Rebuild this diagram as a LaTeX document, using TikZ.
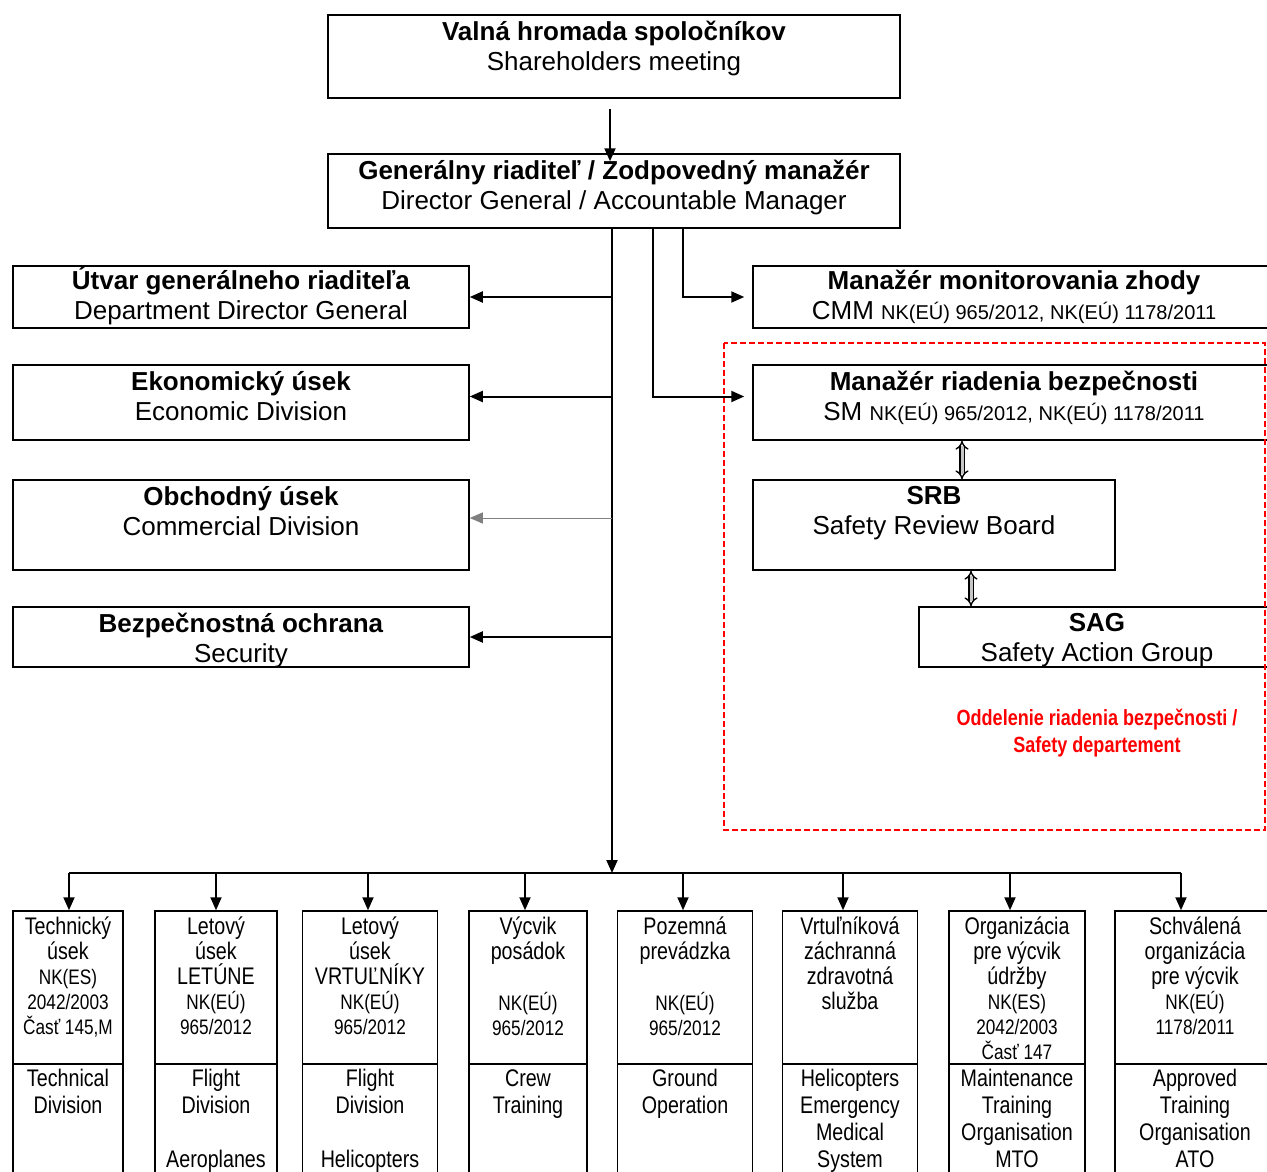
\documentclass[tikz,border=0pt]{standalone}
\usepackage{fontspec}
\setmainfont{Liberation Sans}
\newfontfamily\narrowfont[FakeStretch=0.82]{Liberation Sans}
\usetikzlibrary{arrows.meta, positioning}
\newcommand{\nk}[1]{{\fontsize{21}{24}\selectfont #1}}

\begin{document}
\begin{tikzpicture}[x=1pt, y=-1pt,
    box/.style={draw, line width=1.5pt, inner sep=0pt},
    txt/.style={align=center, inner sep=0pt, anchor=north, yshift=-7pt, font=\fontsize{26}{30}\selectfont,
        execute at begin node={\rule{0pt}{25pt}}},
    cell/.style={align=center, inner sep=0pt, anchor=north, yshift=-6pt, font=\narrowfont\fontsize{24}{25}\selectfont,
        execute at begin node={\rule{0pt}{23pt}}},
    cellb/.style={cell, font=\narrowfont\fontsize{24}{27}\selectfont},
    arr/.style={line width=2pt, -{Triangle[length=13pt, width=11pt]}},
    dbl/.style={double=gray!45, double distance=3pt, line width=1.4pt, {Implies}-{Implies}}]
    \useasboundingbox (0,0) rectangle (1267,1172);  % Fixes the page size
    \clip (0,0) rectangle (1267,1172);  % Cuts the boxes at the right and lower edge
    \fill[white] (0,0) rectangle (1267,1172);  % White background

    % top of the chart
    \node[box, minimum width=572pt, minimum height=83pt] (vh) at (614,56.5) {};  % Shareholders box
    \node[txt] (vhtext) at (vh.north) {\textbf{Valná hromada spoločníkov}\\Shareholders meeting};
    \node[box, minimum width=572pt, minimum height=74pt] (dg) at (614,191) {};  % Director General box
    \node[txt] (dgtext) at (dg.north) {\textbf{Generálny riaditeľ / Zodpovedný manažér}\\Director General / Accountable Manager};
    \draw[arr] ([xshift=-4pt,yshift=-10pt]vh.south) -- ([xshift=-4pt,yshift=-8pt]dg.north);  % Arrow into the Director General

    % left column
    \node[box, minimum width=456pt, minimum height=62pt] (ut) at (241,297) {};  % Department box
    \node[txt] (uttext) at ([yshift=6pt]ut.north) {\textbf{Útvar generálneho riaditeľa}\\Department Director General};
    \node[box, minimum width=456pt, minimum height=75pt] (ek) at (241,402.5) {};  % Economic box
    \node[txt] (ektext) at (ek.north) {\textbf{Ekonomický úsek}\\Economic Division};
    \node[box, minimum width=456pt, minimum height=90pt] (ob) at (241,525) {};  % Commercial box
    \node[txt] (obtext) at (ob.north) {\textbf{Obchodný úsek}\\Commercial Division};
    \node[box, minimum width=456pt, minimum height=60pt] (bo) at (241,637) {};  % Security box
    \node[txt] (botext) at (bo.north) {\textbf{Bezpečnostná ochrana}\\Security};

    % right column
    \node[box, minimum width=522pt, minimum height=62pt] (cmm) at (1014,297) {};  % Compliance box
    \node[txt] (cmmtext) at ([yshift=2pt]cmm.north) {\textbf{Manažér monitorovania zhody}\\CMM \fontsize{20}{30}\selectfont NK(EÚ) 965/2012, NK(EÚ) 1178/2011};
    \node[box, minimum width=522pt, minimum height=75pt] (sm) at (1014,402.5) {};  % Safety manager box
    \node[txt] (smtext) at (sm.north) {\textbf{Manažér riadenia bezpečnosti}\\SM \fontsize{20}{30}\selectfont NK(EÚ) 965/2012, NK(EÚ) 1178/2011};
    \node[box, minimum width=362pt, minimum height=90pt] (srb) at (934,525) {};  % Review board box
    \node[txt] (srbtext) at (srb.north) {\textbf{SRB}\\Safety Review Board};
    \node[box, minimum width=356pt, minimum height=60pt] (sag) at (1097,637) {};  % Action group box
    \node[txt] (sagtext) at (sag.north) {\textbf{SAG}\\Safety Action Group};
    \draw[red, line width=1.5pt, dash pattern=on 6pt off 3pt] (724,343) rectangle (1265,830);  % Safety department frame
    \node[cell, text=red, font=\narrowfont\bfseries\fontsize{22}{27}\selectfont] (sd) at (1097,703) {Oddelenie riadenia bezpečnosti /\\Safety departement};
    \draw[dbl] ([xshift=28pt]sm.south -| srb.north) -- ([xshift=28pt]srb.north);  % SM <-> SRB
    \draw[dbl] ([xshift=37pt]srb.south) -- ([xshift=37pt]srb.south |- sag.north);  % SRB <-> SAG

    % trunk and branches
    \coordinate (bus) at (612,873);
    \draw[arr] (dg.south -| bus) -- (bus);  % Main trunk down to the divisions
    \draw[arr] (ut.east -| bus) -- (ut.east);
    \draw[arr] ([yshift=6pt]ek.east -| bus) -- ([yshift=6pt]ek.east);
    \draw[gray, line width=1pt, -{Triangle[length=13pt, width=11pt]}] ([yshift=7pt]ob.east -| bus) -- ([yshift=7pt]ob.east);
    \draw[arr] (bo.east -| bus) -- (bo.east);
    \draw[arr, shorten >=8pt] ([xshift=69pt]dg.south) |- (cmm.west);  % To compliance manager
    \draw[arr, shorten >=8pt] ([xshift=39pt]dg.south) |- ([yshift=6pt]sm.west);  % To safety manager

    % divisions at the bottom
    \foreach \n/\cx/\w/\dx/\up/\lo in {
        1/68/110/1/{Technický\\úsek\\\nk{NK(ES)}\\\nk{2042/2003}\\\nk{Časť 145,M}}/{Technical\\Division},
        2/216/122/0/{Letový\\úsek\\LETÚNE\\\nk{NK(EÚ)}\\\nk{965/2012}}/{Flight\\Division\\[27pt]Aeroplanes},
        3/370/135/-2/{Letový\\úsek\\VRTUĽNÍKY\\\nk{NK(EÚ)}\\\nk{965/2012}}/{Flight\\Division\\[27pt]Helicopters},
        4/528/118/-3/{Výcvik\\posádok\\[26pt]\nk{NK(EÚ)}\\\nk{965/2012}}/{Crew\\Training},
        5/685/135/-2/{Pozemná\\prevádzka\\[26pt]\nk{NK(EÚ)}\\\nk{965/2012}}/{Ground\\Operation},
        6/850/135/-7/{Vrtuľníková\\záchranná\\zdravotná\\služba}/{Helicopters\\Emergency\\Medical\\System},
        7/1017/136/-7/{Organizácia\\pre výcvik\\údržby\\\nk{NK(ES)}\\\nk{2042/2003}\\\nk{Časť 147}}/{Maintenance\\Training\\Organisation\\MTO},
        8/1195/160/-14/{Schválená\\organizácia\\pre výcvik\\\nk{NK(EÚ)}\\\nk{1178/2011}}/{Approved\\Training\\Organisation\\ATO}} {
        \node[box, minimum width=\w pt, minimum height=153pt] (tu\n) at (\cx,987.5) {};  % Upper part
        \node[box, minimum width=\w pt, minimum height=126pt] (tl\n) at (\cx,1127) {};  % Lower part
        \node[cell] (tut\n) at (tu\n.north) {\up};
        \node[cellb] (tlt\n) at (tl\n.north) {\lo};
        \draw[arr] ([xshift=\dx pt]tu\n.north |- bus) -- ([xshift=\dx pt]tu\n.north);  % Branch arrow
    }
    \draw[line width=2pt] ([xshift=1pt]tu1.north |- bus) -- ([xshift=-14pt]tu8.north |- bus);  % Horizontal bus
\end{tikzpicture}
\end{document}
